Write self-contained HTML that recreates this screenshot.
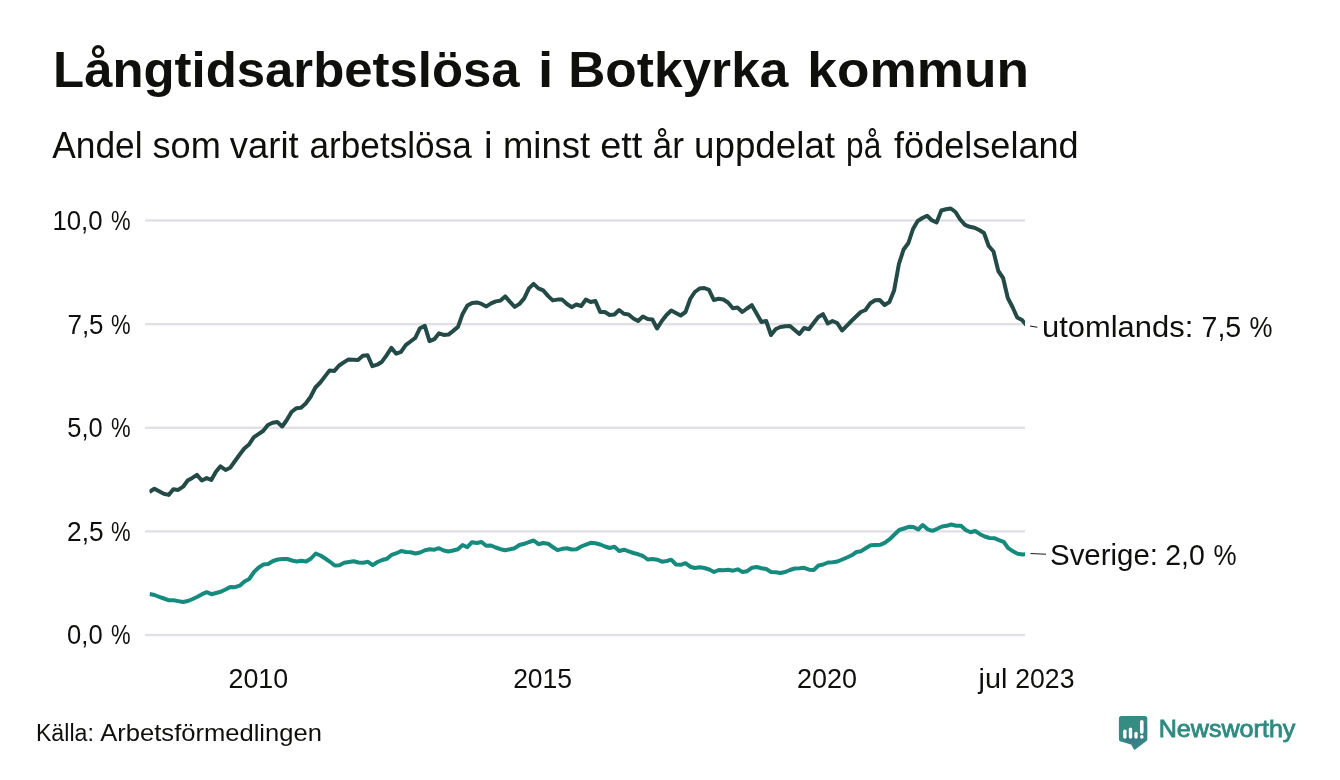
<!DOCTYPE html>
<html lang="sv"><head><meta charset="utf-8"><title>Långtidsarbetslösa i Botkyrka kommun</title>
<style>
html,body{margin:0;padding:0;background:#fff;}
body{width:1340px;height:780px;position:relative;overflow:hidden;font-family:"Liberation Sans",sans-serif;}
svg{position:absolute;left:0;top:0;display:block;will-change:transform;}
text{font-family:"Liberation Sans",sans-serif;white-space:pre;}
</style></head><body>
<svg width="1340" height="780" viewBox="0 0 1340 780">
<defs>
<clipPath id="lc"><path d="M1121.4 716 H1144.8 Q1147.3 716 1147.3 718.5 V740.2 L1135.2 749.5 Q1134.2 750.2 1133.6 749 L1131.2 744.4 L1120.6 741.6 Q1118.9 741.1 1118.9 739.2 V718.5 Q1118.9 716 1121.4 716 Z"/></clipPath>
<linearGradient id="sh" gradientUnits="userSpaceOnUse" x1="1124" y1="728" x2="1140" y2="744"><stop offset="0" stop-color="#3a5f8f" stop-opacity="0.7"/><stop offset="1" stop-color="#3a6f8f" stop-opacity="0.12"/></linearGradient>
<clipPath id="cp"><rect x="149.4" y="190" width="875.6" height="460"/></clipPath></defs>
<rect x="0" y="0" width="1340" height="780" fill="#ffffff"/>
<rect x="145" y="219.30" width="880" height="2.4" fill="#e1e0e6"/>
<rect x="145" y="322.95" width="880" height="2.4" fill="#e1e0e6"/>
<rect x="145" y="426.55" width="880" height="2.4" fill="#e1e0e6"/>
<rect x="145" y="530.20" width="880" height="2.4" fill="#e1e0e6"/>
<rect x="145" y="633.80" width="880" height="2.4" fill="#e1e0e6"/>
<g clip-path="url(#cp)" fill="none" stroke-width="4" stroke-linejoin="round" stroke-linecap="butt">
<polyline stroke="#178a7e" points="149.6,594.0 154.5,595.0 159.2,596.8 164.0,598.5 168.9,600.3 173.6,600.2 178.3,601.1 183.0,602.0 187.9,601.0 192.7,599.0 197.5,596.8 202.1,594.2 206.8,592.2 211.4,594.2 216.1,593.0 220.8,591.7 225.5,589.5 230.2,587.0 235.0,587.2 239.7,585.7 244.5,581.5 249.2,579.0 254.0,572.0 258.7,567.5 263.5,564.5 268.2,564.0 273.0,561.0 277.8,559.5 282.5,559.0 287.2,559.0 292.0,560.5 296.7,561.5 301.5,560.8 306.2,561.5 311.0,558.5 315.7,553.5 320.5,555.5 325.2,558.5 330.0,561.8 334.7,565.5 339.5,565.2 344.2,562.8 349.0,562.0 353.7,561.2 358.5,562.5 363.2,562.7 368.0,561.8 372.7,565.2 377.5,562.0 382.2,560.0 387.0,558.8 391.7,554.8 396.5,553.2 401.2,551.0 406.0,552.0 410.7,552.2 415.5,553.5 420.2,552.5 425.0,550.2 429.7,549.2 434.4,549.7 439.0,548.2 443.7,550.5 448.4,551.5 453.1,550.5 457.9,549.2 462.6,545.0 467.3,547.2 472.0,542.2 476.8,543.0 481.5,542.0 486.2,545.8 491.0,545.5 495.7,547.5 500.5,549.2 505.2,550.2 510.0,549.3 514.7,548.2 519.5,545.0 524.2,543.8 529.0,542.0 533.7,540.5 538.5,544.2 543.2,543.0 548.0,543.7 552.7,547.0 557.5,550.2 562.2,548.8 567.0,548.2 571.7,549.5 576.5,549.2 581.2,546.5 586.0,544.7 590.7,542.8 595.5,543.3 600.2,544.5 605.0,546.5 609.7,548.0 614.5,546.8 619.2,551.0 624.0,549.7 628.7,551.3 633.5,553.0 638.2,554.3 643.0,556.0 647.7,559.5 652.5,559.0 657.2,559.7 662.0,561.7 666.7,561.0 671.2,559.7 676.0,564.5 680.7,564.8 685.5,563.2 690.2,566.7 695.0,568.0 699.7,567.3 704.5,568.0 709.2,569.5 714.0,572.0 718.7,570.0 723.5,570.2 728.2,569.7 733.0,570.7 737.7,569.3 742.5,572.0 747.2,571.2 752.0,567.7 756.7,567.0 761.5,568.3 766.2,569.0 771.0,572.0 775.7,572.3 780.5,573.0 785.2,572.0 790.0,570.0 794.7,568.5 799.5,568.3 804.2,567.8 809.0,569.7 813.7,570.0 818.5,565.5 823.2,564.5 828.0,562.5 832.7,562.2 837.5,561.5 842.2,559.5 847.0,557.5 851.7,555.3 856.5,552.0 861.2,551.2 866.0,548.0 870.7,545.3 875.5,545.0 880.2,544.8 885.0,542.7 889.7,539.2 894.5,534.5 899.2,530.0 904.0,528.5 908.7,526.8 913.5,527.0 918.2,529.5 922.7,525.0 927.7,529.3 932.5,530.8 937.2,528.8 942.0,526.5 946.7,525.8 951.2,524.5 956.2,525.7 961.0,525.7 965.7,530.0 970.5,532.2 975.2,531.0 980.0,534.2 984.7,536.5 989.5,538.0 994.2,538.2 999.0,540.2 1003.6,541.8 1008.3,548.2 1013.0,551.3 1017.7,553.8 1022.5,554.5 1027.2,554.0"/>
<polyline stroke="#234a46" points="149.4,492.0 154.4,488.7 159.1,491.3 163.8,493.8 168.7,494.9 173.3,489.2 178.2,489.9 183.1,486.7 187.7,480.5 192.3,477.9 196.9,474.9 201.8,480.5 206.7,478.1 211.3,480.0 215.9,471.8 220.5,466.3 225.6,470.0 230.3,467.7 235.0,461.0 239.7,454.5 244.3,448.5 249.0,444.5 253.7,437.3 258.4,434.1 263.1,431.0 267.9,425.0 272.6,422.8 277.3,422.0 282.2,426.5 286.8,420.0 291.5,412.0 296.4,408.2 301.0,407.7 305.7,403.5 310.5,397.0 315.4,387.5 320.3,382.5 325.0,376.4 329.6,370.4 334.4,370.9 339.1,365.5 343.8,362.4 348.5,359.4 353.3,359.7 358.0,359.9 362.8,355.7 367.6,355.2 372.4,366.2 377.2,364.7 382.0,361.7 386.7,355.2 391.4,347.9 396.2,353.7 401.0,351.9 405.7,345.2 410.5,341.5 415.3,337.9 420.0,328.2 424.8,325.9 429.5,341.2 434.3,339.2 439.0,333.3 443.7,334.9 448.5,334.6 453.2,330.9 458.0,326.9 462.6,313.9 467.4,305.4 472.1,302.9 476.9,302.4 481.6,303.9 486.4,306.4 491.1,303.4 495.8,301.4 500.5,300.6 505.2,296.4 510.0,301.9 514.7,306.9 519.5,303.9 524.2,298.4 528.9,288.4 533.6,283.9 538.4,288.4 543.2,290.4 548.0,295.9 552.7,300.4 557.4,299.6 562.2,299.6 567.0,304.0 571.6,307.2 576.4,304.5 581.2,306.0 585.9,299.5 590.6,302.0 595.4,301.0 600.2,312.0 604.9,312.0 609.7,315.0 614.4,314.5 619.1,310.0 623.9,313.8 628.6,314.5 633.4,318.5 638.1,321.0 642.9,316.5 647.6,319.0 652.4,319.5 657.1,328.5 661.8,321.0 666.5,315.0 671.2,310.5 675.9,313.0 680.6,315.5 685.5,312.0 690.2,299.0 694.8,292.0 699.6,288.5 704.3,288.0 709.0,289.8 713.8,300.0 718.5,298.8 723.3,299.5 728.0,302.5 732.8,308.2 737.5,307.5 742.3,312.0 747.0,308.5 751.8,305.2 756.6,313.5 761.4,322.0 766.2,321.0 771.0,335.0 775.8,329.0 780.5,327.0 785.2,326.3 790.0,326.0 794.7,330.0 799.4,334.0 804.1,328.0 808.9,329.2 813.6,323.0 818.3,317.0 823.0,314.2 827.8,323.5 832.5,321.0 837.2,323.0 842.0,330.5 846.7,325.8 851.4,321.0 856.1,316.5 860.8,312.0 865.5,310.0 870.3,303.2 875.0,300.2 879.7,300.0 884.6,305.0 889.4,302.0 894.1,290.5 898.9,264.0 903.6,249.5 908.4,243.0 913.0,229.0 917.7,221.0 922.4,218.0 927.1,215.8 931.8,220.2 936.6,222.5 941.3,210.5 946.0,209.2 950.8,208.5 955.5,212.0 960.2,219.5 965.0,224.8 969.7,226.8 974.5,227.7 979.2,230.0 984.0,233.0 988.7,246.0 993.5,251.5 998.3,271.0 1003.1,278.0 1007.8,298.0 1012.5,307.0 1017.2,317.5 1022.0,320.0 1026.7,325.5"/>
</g>
<line x1="1030" y1="326.1" x2="1037.3" y2="327.2" stroke="#1a1a1a" stroke-width="1.05"/>
<line x1="1030.5" y1="553.5" x2="1046" y2="554.2" stroke="#1a1a1a" stroke-width="1.05"/>
<g id="logo">
<path d="M1121.4 716 H1144.8 Q1147.3 716 1147.3 718.5 V740.2 L1135.2 749.5 Q1134.2 750.2 1133.6 749 L1131.2 744.4 L1120.6 741.6 Q1118.9 741.1 1118.9 739.2 V718.5 Q1118.9 716 1121.4 716 Z" fill="#368c83"/>
<g clip-path="url(#lc)" fill="url(#sh)">
<path d="M1126.6 731.3 L1146.6 751.3 L1143.2 758.8 L1123.2 738.8 Z"/>
<path d="M1132.2 729.1 L1152.2 749.1 L1148.8 758.8 L1128.8 738.8 Z"/>
<path d="M1137.7 733.4 L1157.7 753.4 L1154.3 758.8 L1134.3 738.8 Z"/>
<path d="M1143.6 721.8 L1163.6 741.8 L1160 758.8 L1140 738.8 Z"/>
</g>
<rect x="1123.2" y="729.6" width="3.4" height="9.2" rx="1.7" fill="#fff"/>
<rect x="1128.8" y="727.4" width="3.4" height="11.4" rx="1.7" fill="#fff"/>
<rect x="1134.3" y="731.7" width="3.4" height="7.1" rx="1.7" fill="#fff"/>
<rect x="1140" y="720" width="3.6" height="13.9" rx="1.8" fill="#fff"/>
<rect x="1140" y="735.1" width="3.6" height="3.7" rx="1.8" fill="#fff"/>
</g>
<text transform="translate(53.10,87.30) scale(1.0150,1)" font-size="50.14" fill="#0f0f0d" font-weight="bold">Långtidsarbetslösa</text>
<text transform="translate(537.97,87.30) scale(1.0938,1)" font-size="50.14" fill="#0f0f0d" font-weight="bold">i</text>
<text transform="translate(568.17,87.30) scale(1.0263,1)" font-size="50.14" fill="#0f0f0d" font-weight="bold">Botkyrka</text>
<text transform="translate(807.32,87.30) scale(1.0615,1)" font-size="50.14" fill="#0f0f0d" font-weight="bold">kommun</text>
<text transform="translate(52.25,157.50) scale(0.9707,1)" font-size="36.38" fill="#0f0f0d">Andel</text>
<text transform="translate(152.51,157.50) scale(0.9939,1)" font-size="36.38" fill="#0f0f0d">som</text>
<text transform="translate(229.75,157.50) scale(1.0024,1)" font-size="36.38" fill="#0f0f0d">varit</text>
<text transform="translate(309.53,157.50) scale(0.9670,1)" font-size="36.38" fill="#0f0f0d">arbetslösa</text>
<text transform="translate(484.12,157.50) scale(1.0625,1)" font-size="36.38" fill="#0f0f0d">i</text>
<text transform="translate(502.99,157.50) scale(1.0028,1)" font-size="36.38" fill="#0f0f0d">minst</text>
<text transform="translate(600.21,157.50) scale(1.0439,1)" font-size="36.38" fill="#0f0f0d">ett</text>
<text transform="translate(652.53,157.50) scale(0.9705,1)" font-size="36.38" fill="#0f0f0d">år</text>
<text transform="translate(694.08,157.50) scale(1.0101,1)" font-size="36.38" fill="#0f0f0d">uppdelat</text>
<text transform="translate(846.11,157.50) scale(0.8681,1)" font-size="36.38" fill="#0f0f0d">på</text>
<text transform="translate(894.10,157.50) scale(0.9915,1)" font-size="36.38" fill="#0f0f0d">födelseland</text>
<text transform="translate(52.40,229.85) scale(0.9506,1)" font-size="27.14" fill="#0f0f0d">10,0</text>
<text transform="translate(111.00,229.85) scale(0.8125,1)" font-size="27.14" fill="#0f0f0d">%</text>
<text transform="translate(67.44,333.50) scale(0.9573,1)" font-size="27.14" fill="#0f0f0d">7,5</text>
<text transform="translate(111.00,333.50) scale(0.8125,1)" font-size="27.14" fill="#0f0f0d">%</text>
<text transform="translate(67.26,437.10) scale(0.9366,1)" font-size="27.14" fill="#0f0f0d">5,0</text>
<text transform="translate(111.00,437.10) scale(0.8125,1)" font-size="27.14" fill="#0f0f0d">%</text>
<text transform="translate(67.03,540.75) scale(0.9685,1)" font-size="27.14" fill="#0f0f0d">2,5</text>
<text transform="translate(111.00,540.75) scale(0.8125,1)" font-size="27.14" fill="#0f0f0d">%</text>
<text transform="translate(67.06,644.35) scale(0.9421,1)" font-size="27.14" fill="#0f0f0d">0,0</text>
<text transform="translate(111.00,644.35) scale(0.8125,1)" font-size="27.14" fill="#0f0f0d">%</text>
<text transform="translate(228.52,687.90) scale(0.9833,1)" font-size="27.29" fill="#0f0f0d">2010</text>
<text transform="translate(513.13,687.90) scale(0.9716,1)" font-size="27.29" fill="#0f0f0d">2015</text>
<text transform="translate(797.01,687.90) scale(0.9875,1)" font-size="27.29" fill="#0f0f0d">2020</text>
<text transform="translate(978.56,687.90) scale(1.0562,1)" font-size="27.29" fill="#0f0f0d">jul</text>
<text transform="translate(1015.28,687.90) scale(0.9745,1)" font-size="27.29" fill="#0f0f0d">2023</text>
<text transform="translate(1041.94,337.20) scale(1.0619,1)" font-size="29.14" fill="#0f0f0d">utomlands:</text>
<text transform="translate(1201.52,337.20) scale(0.9794,1)" font-size="29.14" fill="#0f0f0d">7,5</text>
<text transform="translate(1249.61,337.20) scale(0.8875,1)" font-size="29.14" fill="#0f0f0d">%</text>
<text transform="translate(1049.99,565.30) scale(1.0055,1)" font-size="29.29" fill="#0f0f0d">Sverige:</text>
<text transform="translate(1165.23,565.30) scale(0.9719,1)" font-size="29.29" fill="#0f0f0d">2,0</text>
<text transform="translate(1213.61,565.30) scale(0.8875,1)" font-size="29.29" fill="#0f0f0d">%</text>
<text transform="translate(35.94,741.10) scale(0.9622,1)" font-size="24.06" fill="#0f0f0d">Källa:</text>
<text transform="translate(100.30,741.10) scale(1.0625,1)" font-size="24.06" fill="#0f0f0d">Arbetsförmedlingen</text>
<text transform="translate(1158.67,737.10) scale(1.0505,1)" font-size="23.91" fill="#2e8a80" stroke="#2e8a80" stroke-width="0.8">Newsworthy</text>
</svg>
</body></html>
